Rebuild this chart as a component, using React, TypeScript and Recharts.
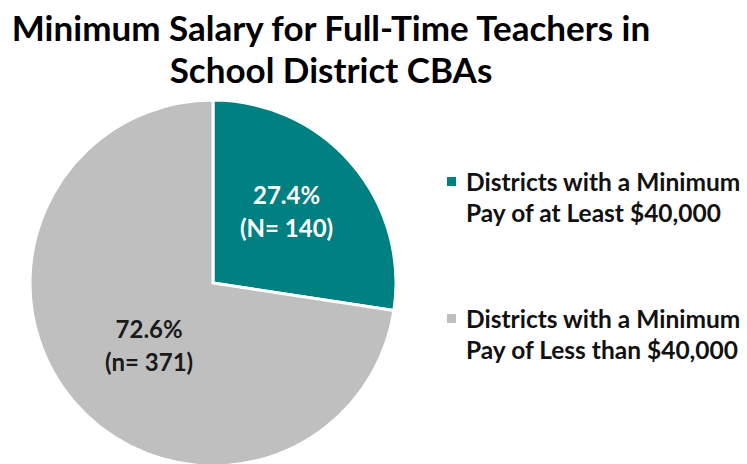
import { PieChart, Pie, Cell, Legend } from "recharts";

const categories = [
  "Districts with a Minimum Pay of at Least $40,000",
  "Districts with a Minimum Pay of Less than $40,000",
];
const legendLines = [
  ["Districts with a Minimum", "Pay of at Least $40,000"],
  ["Districts with a Minimum", "Pay of Less than $40,000"],
];
const percents = [27.4, 72.6];
const counts = ["N= 140", "n= 371"];
const colors = ["#008080", "#BFBFBF"];
const labelColors = ["#FFFFFF", "#1A1A1A"];
const labelRadius = [0.53, 0.46];
const labelShiftY = [-8, 8];

const FONT = "Lato, 'Open Sans', sans-serif";

const data = categories.map((name, i) => ({
  name,
  value: percents[i],
  count: counts[i],
}));

const RAD = Math.PI / 180;

function SliceLabel(props: any) {
  const { cx, cy, midAngle, outerRadius, index, payload } = props;
  const r = outerRadius * labelRadius[index];
  const x = cx + r * Math.cos(-midAngle * RAD);
  const y = cy + r * Math.sin(-midAngle * RAD) + labelShiftY[index];
  return (
    <text
      x={x}
      y={y}
      textAnchor="middle"
      fill={labelColors[index]}
      fontFamily={FONT}
      fontWeight={700}
      fontSize={24}
    >
      <tspan x={x} dy={-8}>{`${payload.value.toFixed(1)}%`}</tspan>
      <tspan x={x} dy={33}>{`(${payload.count})`}</tspan>
    </text>
  );
}

function LegendBox() {
  return (
    <div style={{ fontFamily: FONT, fontWeight: 700, fontSize: 24.5, color: "#111" }}>
      {legendLines.map((lines, i) => (
        <div key={i} style={{ position: "relative", marginBottom: i === 0 ? 75 : 0, lineHeight: "31px", whiteSpace: "nowrap" }}>
          <span
            style={{
              position: "absolute",
              left: -19,
              top: 11,
              width: 9,
              height: 9,
              background: colors[i],
            }}
          />
          <div>{lines[0]}</div>
          <div>{lines[1]}</div>
        </div>
      ))}
    </div>
  );
}

export default function App() {
  return (
    <div style={{ position: "absolute", left: 0, top: 0, width: 747, height: 464, background: "#fff", overflow: "hidden" }}>
      <div
        style={{
          position: "absolute",
          left: 0,
          top: 6,
          width: 662,
          textAlign: "center",
          fontFamily: FONT,
          fontWeight: 700,
          fontSize: 35,
          lineHeight: "42px",
          color: "#000",
        }}
      >
        Minimum Salary for Full-Time Teachers in
        <br />
        School District CBAs
      </div>
      <PieChart
        width={747}
        height={464}
        margin={{ top: 0, right: 0, bottom: 0, left: 0 }}
        style={{ position: "absolute", left: 0, top: 0 }}
      >
        <Pie
          data={data}
          dataKey="value"
          nameKey="name"
          cx={213}
          cy={283}
          outerRadius={183}
          startAngle={90}
          endAngle={-270}
          stroke="#FFFFFF"
          strokeWidth={3}
          label={SliceLabel}
          labelLine={false}
          isAnimationActive={false}
        >
          {data.map((d, i) => (
            <Cell key={d.name} fill={colors[i]} />
          ))}
        </Pie>
        <Legend
          content={<LegendBox />}
          wrapperStyle={{ position: "absolute", left: 466, top: 166, width: 290 }}
        />
      </PieChart>
    </div>
  );
}
